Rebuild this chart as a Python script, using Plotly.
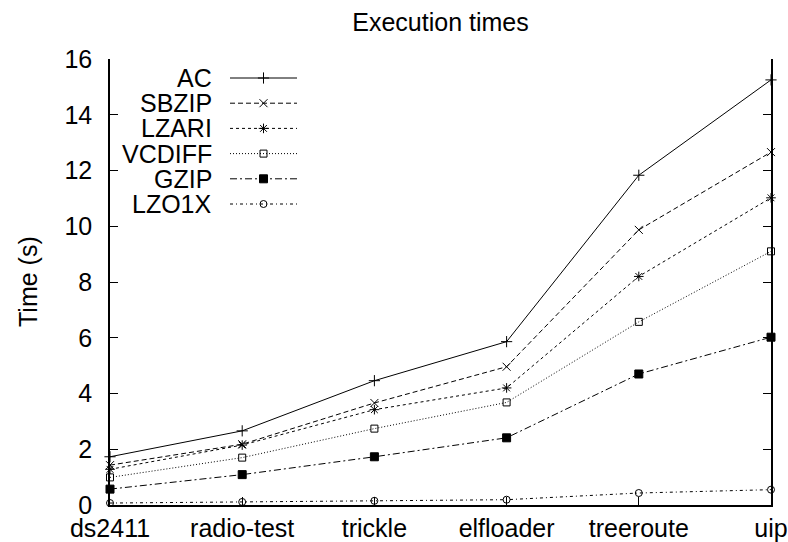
import plotly.graph_objects as go

# ---- data ----
categories = ["ds2411", "radio-test", "trickle", "elfloader", "treeroute", "uip"]
series_names = ["AC", "SBZIP", "LZARI", "VCDIFF", "GZIP", "LZO1X"]
ac = [1.73, 2.66, 4.46, 5.86, 11.83, 15.25]
sbzip = [1.43, 2.18, 3.66, 4.96, 9.87, 12.66]
lzari = [1.28, 2.15, 3.42, 4.20, 8.20, 11.02]
vcdiff = [0.99, 1.70, 2.74, 3.68, 6.57, 9.10]
gzip_ = [0.57, 1.09, 1.73, 2.41, 4.70, 6.02]
lzo1x = [0.07, 0.11, 0.15, 0.19, 0.43, 0.55]
y_ticks = [0, 2, 4, 6, 8, 10, 12, 14, 16]

values = [ac, sbzip, lzari, vcdiff, gzip_, lzo1x]

# ---- styles ----
FONT = "Liberation Sans, Arial, Helvetica, sans-serif"
FS = 25
W, H = 788, 542
L, R, T, B = 110, 17, 59, 37

dashes = ["solid", "5px,3px", "3px,3px", "1px,2px", "7px,3px,2px,3px", "3px,3px,1px,3px"]
symbols = ["cross-thin", "x-thin", "asterisk", "square-open", "square", "circle-open"]
msizes = [8, 8, 8, 7, 8, 7]

fig = go.Figure()
for name, vals, d, s, ms in zip(series_names, values, dashes, symbols, msizes):
    fig.add_trace(go.Scatter(
        x=categories, y=vals, name=name, mode="lines+markers",
        line=dict(color="black", width=1, dash=d),
        marker=dict(symbol=s, size=ms, color="black",
                    line=dict(color="black", width=1)),
        cliponaxis=False, showlegend=False,
    ))

# ---- gnuplot-style key (text right, sample left) on a pixel overlay axis ----
key_text_x = 214
key_line_x0, key_line_x1 = 230, 297
key_y0, key_dy = 78, 25.2
for i, (name, d, s, ms) in enumerate(zip(series_names, dashes, symbols, msizes)):
    ky = key_y0 + i * key_dy
    fig.add_trace(go.Scatter(
        x=[key_line_x0, key_line_x1], y=[ky, ky], mode="lines",
        line=dict(color="black", width=1, dash=d),
        xaxis="x2", yaxis="y2", showlegend=False, hoverinfo="skip",
    ))
    fig.add_trace(go.Scatter(
        x=[(key_line_x0 + key_line_x1) / 2], y=[ky], mode="markers",
        marker=dict(symbol=s, size=ms, color="black",
                    line=dict(color="black", width=1)),
        xaxis="x2", yaxis="y2", showlegend=False, hoverinfo="skip",
    ))
    fig.add_annotation(x=key_text_x, y=ky, xref="x2", yref="y2", text=name,
                       xanchor="right", yanchor="middle", showarrow=False,
                       font=dict(family=FONT, size=FS, color="black"))

plot_w = W - L - R
fig.add_annotation(x=(28 - L) / plot_w, y=0.5, xref="paper", yref="paper",
                   text="Time (s)", textangle=-90, showarrow=False,
                   xanchor="center", yanchor="middle",
                   font=dict(family=FONT, size=FS, color="black"))

fig.update_layout(
    width=W, height=H,
    margin=dict(l=L, r=R, t=T, b=B),
    paper_bgcolor="white", plot_bgcolor="white",
    font=dict(family=FONT, size=FS, color="black"),
    title=dict(text="Execution times", x=(L + W - R) / 2 / W, xanchor="center",
               y=1 - 22 / H, yanchor="middle", yref="container",
               font=dict(family=FONT, size=FS, color="black")),
    xaxis=dict(type="category", categoryarray=categories, range=[0, len(categories) - 1],
               showline=True, linecolor="black", linewidth=1.5, mirror=False,
               ticks="inside", ticklen=8, tickcolor="black", tickwidth=1,
               showgrid=False, zeroline=False, ticklabelstandoff=0, automargin=False,
               tickfont=dict(family=FONT, size=FS, color="black")),
    yaxis=dict(range=[0, 16], tickvals=y_ticks,
               showline=True, linecolor="black", linewidth=1.5, mirror="ticks",
               ticks="inside", ticklen=8, tickcolor="black", tickwidth=1,
               showgrid=False, zeroline=False, ticklabelstandoff=11, automargin=False,
               tickfont=dict(family=FONT, size=FS, color="black")),
    xaxis2=dict(overlaying="x", anchor="y2", range=[L, W - R], visible=False,
                showgrid=False, zeroline=False),
    yaxis2=dict(overlaying="y", anchor="x2", range=[H - B, T], visible=False,
                showgrid=False, zeroline=False),
    showlegend=False,
)

fig.write_html("out.html")
